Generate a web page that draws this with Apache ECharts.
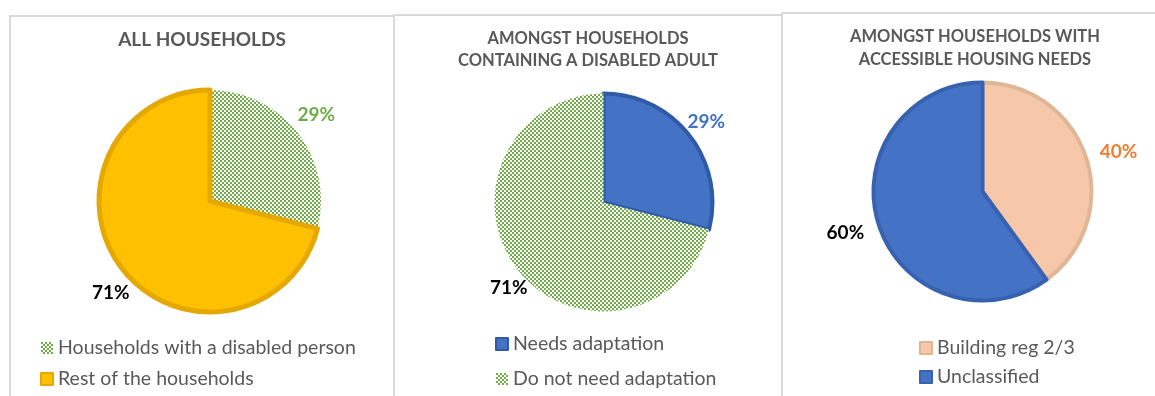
<!DOCTYPE html>
<html>
<head>
<meta charset="utf-8">
<script src="https://cdn.jsdelivr.net/npm/echarts@6/dist/echarts.min.js"></script>
<style>
html,body{margin:0;padding:0;background:#fff;}
#chart{width:1155px;height:396px;}
</style>
</head>
<body>
<div id="chart"></div>
<script>
// ---- data ----
const titles = ['ALL HOUSEHOLDS', 'AMONGST HOUSEHOLDS\nCONTAINING A DISABLED ADULT', 'AMONGST HOUSEHOLDS WITH\nACCESSIBLE HOUSING NEEDS'];
const cats1 = ['Households with a disabled person', 'Rest of the households'];
const vals1 = [29, 71];
const cats2 = ['Needs adaptation', 'Do not need adaptation'];
const vals2 = [29, 71];
const cats3 = ['Building reg 2/3', 'Unclassified'];
const vals3 = [40, 60];

// ---- styles ----
function checker() {
  const c = document.createElement('canvas');
  c.width = 4; c.height = 4;
  const g = c.getContext('2d');
  g.fillStyle = '#ffffff'; g.fillRect(0, 0, 4, 4);
  g.fillStyle = '#70ad47';
  g.fillRect(0, 0, 2, 2); g.fillRect(2, 2, 2, 2);
  return { image: c, repeat: 'repeat' };
}
const greenPat = checker();
const FONT = 'Lato';
const titleColor = '#595959';

const chart = echarts.init(document.getElementById('chart'), null, { renderer: 'canvas' });

// small label nudges (style only), per series per item
const labelNudge = [
  [[-2, -2], [9, 8]],
  [[0, -1], [8, 6]],
  [[2, 4], [-3, -2]]
];

function mkLabelLayout(si) {
  return function (p) {
    const n = labelNudge[si][p.dataIndex];
    return { align: 'center', dx: (p.align === 'left' ? -5 : 5) + n[0], dy: n[1] };
  };
}

function pieSeries(si, center, radius, len, cats, vals, styles, labelColors) {
  return {
    type: 'pie',
    center: center,
    radius: radius,
    startAngle: 90,
    clockwise: true,
    silent: true,
    animation: false,
    avoidLabelOverlap: false,
    label: {
      show: true, position: 'outside', formatter: '{c}%',
      fontFamily: FONT, fontWeight: 'bold', fontSize: 19
    },
    labelLine: { show: false, length: len, length2: 0 },
    labelLayout: mkLabelLayout(si),
    data: cats.map((n, i) => ({
      name: n, value: vals[i], itemStyle: styles[i],
      label: { color: labelColors[i] }
    }))
  };
}

const legendText = { fontFamily: FONT, fontSize: 19.5, color: titleColor };

const option = {
  animation: false,
  backgroundColor: '#ffffff',
  graphic: [
    { type: 'rect', shape: { x: 10, y: 16, width: 384, height: 420 }, style: { fill: 'none', stroke: '#d9d9d9', lineWidth: 2 }, silent: true },
    { type: 'rect', shape: { x: 394, y: 15, width: 388, height: 420 }, style: { fill: 'none', stroke: '#d9d9d9', lineWidth: 2 }, silent: true },
    { type: 'rect', shape: { x: 782, y: 13, width: 400, height: 420 }, style: { fill: 'none', stroke: '#d9d9d9', lineWidth: 2 }, silent: true }
  ],
  title: [
    { text: titles[0], left: 202, top: 30, padding: 0, textAlign: 'center', textStyle: { fontFamily: FONT, fontWeight: 'bold', fontSize: 19, color: titleColor } },
    { text: titles[1], left: 588, top: 28, padding: 0, textAlign: 'center', textStyle: { fontFamily: FONT, fontWeight: 'bold', fontSize: 16.5, color: titleColor, lineHeight: 22 } },
    { text: titles[2], left: 975, top: 25, padding: 0, textAlign: 'center', textStyle: { fontFamily: FONT, fontWeight: 'bold', fontSize: 16.5, color: titleColor, lineHeight: 23 } }
  ],
  legend: [
    { data: cats1, orient: 'vertical', left: 40, top: 338, padding: 0, itemWidth: 12, itemHeight: 12, itemGap: 11, icon: 'rect', selectedMode: false, textStyle: legendText },
    { data: cats2, orient: 'vertical', left: 495, top: 334, padding: 0, itemWidth: 12, itemHeight: 12, itemGap: 15, icon: 'rect', selectedMode: false, textStyle: legendText },
    { data: cats3, orient: 'vertical', left: 919, top: 338, padding: 0, itemWidth: 12, itemHeight: 12, itemGap: 9, icon: 'rect', selectedMode: false, textStyle: legendText }
  ],
  series: [
    pieSeries(0, [210, 201], 111, 26, cats1, vals1,
      [{ color: greenPat, borderWidth: 0 }, { color: '#ffc000', borderColor: '#e5a800', borderWidth: 5 }],
      ['#70ad47', '#000000']),
    pieSeries(1, [603.5, 202.5], 109, 21, cats2, vals2,
      [{ color: '#4472c4', borderColor: '#2f5aa8', borderWidth: 4 }, { color: greenPat, borderWidth: 0 }],
      ['#4472c4', '#000000']),
    pieSeries(2, [982.5, 191.5], 109, 32, cats3, vals3,
      [{ color: '#f6c8a9', borderColor: '#dfb796', borderWidth: 4 }, { color: '#4472c4', borderColor: '#3862b0', borderWidth: 4 }],
      ['#ed7d31', '#000000'])
  ]
};
chart.setOption(option);
</script>
</body>
</html>
